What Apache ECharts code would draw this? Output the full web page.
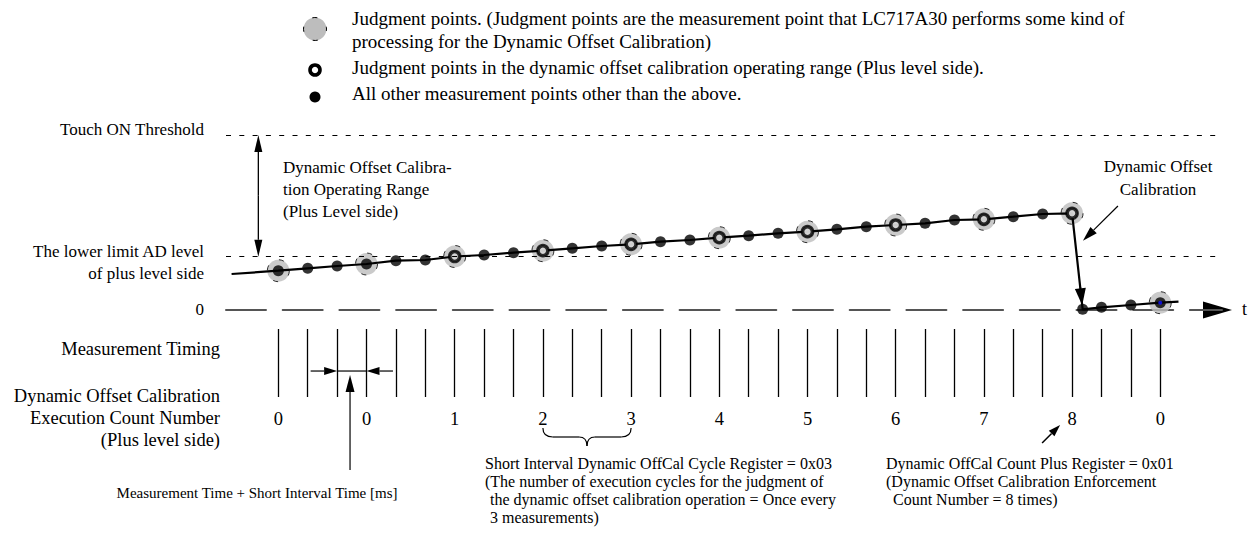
<!DOCTYPE html>
<html><head><meta charset="utf-8">
<script src="https://cdn.jsdelivr.net/npm/echarts@6/dist/echarts.min.js"></script>
<style>html,body{margin:0;background:#fff}#c{width:1250px;height:534px}</style>
</head><body><div id="c"></div>
<script>
// ---- data ----
const countLabels = ['0', '0', '1', '2', '3', '4', '5', '6', '7', '8', '0'];
const levelsBeforeCal = [39.3, 41.7, 44, 46, 49.3, 50, 53.5, 55, 57.3, 59.3, 61.7, 64, 65.7, 68.3, 70, 72.3, 74.3, 76.7, 78.3, 80.7, 83.3, 85, 86.7, 90, 90.7, 93.3, 96, 96.7];
const stepsAfterCal = [27.36, 28, 29, 30];
const levelsAfterCal = [0.7, 2.7, 5, 7.3];
const leadIn = [-1.59, 36];
const tailOut = [30.62, 8.3];
const touchOnThreshold = 175;
const lowerLimitLevel = 53.3;
const judgmentCycle = 3;
const legendTexts = [
  'Judgment points. (Judgment points are the measurement point that LC717A30 performs some kind of',
  'processing for the Dynamic Offset Calibration)',
  'Judgment points in the dynamic offset calibration operating range (Plus level side).',
  'All other measurement points other than the above.'
];

// ---- derived point sets ----
const before = levelsBeforeCal.map((v, i) => [i, v]);
const after = stepsAfterCal.map((s, k) => [s, levelsAfterCal[k]]);
const allPoints = before.concat(after);
const judgment = allPoints.filter(p => Number.isInteger(p[0]) && p[0] % judgmentCycle === 0);
const inRange = judgment.filter(p => p[1] >= lowerLimitLevel && p[1] <= touchOnThreshold);
const lastJudgment = judgment.filter(p => p[0] > before.length - 1);
const trend = [leadIn].concat(before, after, [tailOut]);

const FONT = '"Liberation Serif","Times New Roman",serif';
const chart = echarts.init(document.getElementById('c'), null, {renderer: 'svg'});

chart.setOption({
  animation: false,
  backgroundColor: '#fff',
  grid: [
    {left: 226, right: 28, top: 135, bottom: 224},
    {left: 278.3, right: 89.7, top: 329, bottom: 137}
  ],
  xAxis: [
    {type: 'value', gridIndex: 0, min: -1.78, max: 32.1,
     axisLine: {show: true, lineStyle: {color: '#555', width: 2, type: [40, 16.7]}, symbol: 'none'},
     axisTick: {show: false}, axisLabel: {show: false}, splitLine: {show: false}},
    {type: 'value', gridIndex: 1, min: 0, max: 30, interval: 1, position: 'bottom',
     axisLine: {show: false},
     axisTick: {show: true, inside: true, length: 68, lineStyle: {color: '#000', width: 1.3}},
     axisLabel: {show: true, margin: 12, color: '#000', fontFamily: FONT, fontSize: 18.5,
                 hideOverlap: false, showMinLabel: true, showMaxLabel: true,
                 formatter: v => (v % judgmentCycle === 0 ? countLabels[v / judgmentCycle] : '')},
     splitLine: {show: false}}
  ],
  yAxis: [
    {type: 'value', gridIndex: 0, min: 0, max: touchOnThreshold, show: false},
    {type: 'value', gridIndex: 1, min: 0, max: 1, show: false}
  ],
  series: [
    {type: 'scatter', name: 'halo', xAxisIndex: 0, yAxisIndex: 0, z: 1, data: judgment,
     symbol: 'circle', symbolSize: 22,
     itemStyle: {color: '#bdbdbd', borderColor: '#000', borderWidth: 1, borderType: [5, 12.3], borderDashOffset: 2.5}},
    {type: 'line', name: 'level', xAxisIndex: 0, yAxisIndex: 0, z: 2, data: trend,
     symbol: 'none', lineStyle: {color: '#000', width: 2.2},
     markLine: {silent: true, symbol: 'none', label: {show: false},
       lineStyle: {color: '#000', width: 1, type: [5, 8.3]},
       data: [{yAxis: touchOnThreshold}, {yAxis: lowerLimitLevel}]}},
    {type: 'scatter', name: 'points', xAxisIndex: 0, yAxisIndex: 0, z: 3, data: allPoints,
     symbol: 'circle', symbolSize: 11, itemStyle: {color: '#000'}},
    {type: 'scatter', name: 'inRange', xAxisIndex: 0, yAxisIndex: 0, z: 4, data: inRange,
     symbol: 'circle', symbolSize: 10, itemStyle: {color: '#fff', borderColor: '#000', borderWidth: 3.6}},
    {type: 'scatter', name: 'last', xAxisIndex: 0, yAxisIndex: 0, z: 5, data: lastJudgment,
     symbol: 'circle', symbolSize: 4, itemStyle: {color: '#1010ff'}},
    {type: 'line', name: 'timing', xAxisIndex: 1, yAxisIndex: 1, data: []}
  ]
});

// ---- annotations ----
const P0 = p => chart.convertToPixel({gridIndex: 0}, p);
const P1 = p => chart.convertToPixel({gridIndex: 1}, p);
const g = [];
function txt(s, x, y, size, align) {
  g.push({type: 'text', x: x, y: y, silent: true,
    style: {text: s, font: size + 'px ' + FONT, textAlign: align || 'left', textVerticalAlign: 'middle', fill: '#000'}});
}
function arrow(x1, y1, x2, y2, len, w, lw) {
  const a = Math.atan2(y2 - y1, x2 - x1);
  const bx = x2 - len * Math.cos(a), by = y2 - len * Math.sin(a);
  const nx = -Math.sin(a) * w / 2, ny = Math.cos(a) * w / 2;
  if (lw > 0) g.push({type: 'line', silent: true, shape: {x1: x1, y1: y1, x2: bx, y2: by}, style: {stroke: '#000', lineWidth: lw}});
  g.push({type: 'polygon', silent: true, shape: {points: [[x2, y2], [bx + nx, by + ny], [bx - nx, by - ny]]}, style: {fill: '#000'}});
}

// legend
g.push({type: 'circle', silent: true, shape: {cx: 315, cy: 29, r: 11.5}, style: {fill: '#bdbdbd', stroke: '#000', lineWidth: 1, lineDash: [5, 13], lineDashOffset: 2.5}});
g.push({type: 'circle', silent: true, shape: {cx: 315, cy: 70, r: 5}, style: {fill: '#fff', stroke: '#000', lineWidth: 3.6}});
g.push({type: 'circle', silent: true, shape: {cx: 315, cy: 97, r: 5.5}, style: {fill: '#000'}});
txt(legendTexts[0], 352, 18, 19);
txt(legendTexts[1], 352, 41, 19);
txt(legendTexts[2], 352, 67, 19);
txt(legendTexts[3], 352, 93, 19);

// left labels
const yTh = P0([0, touchOnThreshold])[1], yLo = P0([0, lowerLimitLevel])[1], yZero = P0([0, 0])[1];
txt('Touch ON Threshold', 204, yTh - 6, 17, 'right');
txt('The lower limit AD level', 204, yLo - 5, 17, 'right');
txt('of plus level side', 204, yLo + 17, 17, 'right');
txt('0', 204, yZero - 1, 17, 'right');
txt('t', 1242, yZero - 1, 18, 'left');
txt('Measurement Timing', 220, 349, 18.5, 'right');
txt('Dynamic Offset Calibration', 220, 396, 18.5, 'right');
txt('Execution Count Number', 220, 418, 18.5, 'right');
txt('(Plus level side)', 220, 440, 18.5, 'right');

// time axis arrowhead
arrow(1203, yZero, 1232, yZero, 29, 17, 0);
g.push({type: 'line', silent: true, shape: {x1: 1192, y1: yZero, x2: 1205, y2: yZero}, style: {stroke: '#555', lineWidth: 2}});

// operating range double arrow
const xr = P0([-0.68, 0])[0];
arrow(xr, (yTh + yLo) / 2, xr, yTh, 17, 8, 1.3);
arrow(xr, (yTh + yLo) / 2, xr, yLo, 17, 8, 1.3);
txt('Dynamic Offset Calibra-', 283, 167, 17);
txt('tion Operating Range', 283, 189, 17);
txt('(Plus Level side)', 283, 211, 17);

// calibration drop arrowhead
const dTop = P0(before[before.length - 1]), dBot = P0(after[0]);
(function () {
  const a = Math.atan2(dBot[1] - dTop[1], dBot[0] - dTop[0]);
  const tx = dBot[0] - 4 * Math.cos(a), ty = dBot[1] - 4 * Math.sin(a);
  arrow(tx - 18 * Math.cos(a), ty - 18 * Math.sin(a), tx, ty, 17, 11, 2);
})();
// calibration label + pointer
txt('Dynamic Offset', 1158, 166, 17, 'center');
txt('Calibration', 1158, 189, 17, 'center');
const cT = P0([28.56, 104]), cH = P0([27.37, 69.3]);
arrow(cT[0], cT[1], cH[0], cH[1], 15, 9, 1.2);

// measurement interval arrows
const yI = P1([0, 0.382])[1];
const x2 = P1([2, 0])[0], x3 = P1([3, 0])[0];
arrow(P1([1.1, 0])[0], yI, x2, yI, 13, 8, 1.2);
arrow(P1([3.9, 0])[0], yI, x3, yI, 13, 8, 1.2);
g.push({type: 'line', silent: true, shape: {x1: x2, y1: yI, x2: x3, y2: yI}, style: {stroke: '#000', lineWidth: 1.2}});
const xv = P1([2.44, 0])[0];
arrow(xv, 470, xv, yI + 4, 17, 9, 1.2);
txt('Measurement Time + Short Interval Time [ms]', xv - 93, 493, 15, 'center');

// brace under 2..3
const b1 = P1([9, 0])[0], b2 = P1([12, 0])[0], bm = (b1 + b2) / 2;
const bStyle = {stroke: '#000', lineWidth: 1.2, fill: 'none'};
g.push({type: 'bezierCurve', silent: true, shape: {x1: b1, y1: 428, x2: b1 + 10, y2: 437, cpx1: b1, cpy1: 437}, style: bStyle});
g.push({type: 'line', silent: true, shape: {x1: b1 + 10, y1: 437, x2: bm - 8, y2: 437}, style: bStyle});
g.push({type: 'bezierCurve', silent: true, shape: {x1: bm - 8, y1: 437, x2: bm, y2: 446, cpx1: bm, cpy1: 437}, style: bStyle});
g.push({type: 'bezierCurve', silent: true, shape: {x1: bm, y1: 446, x2: bm + 8, y2: 437, cpx1: bm, cpy1: 437}, style: bStyle});
g.push({type: 'line', silent: true, shape: {x1: bm + 8, y1: 437, x2: b2 - 10, y2: 437}, style: bStyle});
g.push({type: 'bezierCurve', silent: true, shape: {x1: b2 - 10, y1: 437, x2: b2, y2: 428, cpx1: b2, cpy1: 437}, style: bStyle});
txt('Short Interval Dynamic OffCal Cycle Register = 0x03', 485, 463, 16);
txt('(The number of execution cycles for the judgment of', 485, 481, 16);
txt('the dynamic offset calibration operation = Once every', 490, 499, 16);
txt('3 measurements)', 490, 517, 16);

// count plus register
const x8 = P1([27, 0])[0];
arrow(x8 - 30, 443, x8 - 12, 425, 12, 8, 1.5);
txt('Dynamic OffCal Count Plus Register = 0x01', 886, 463, 16);
txt('(Dynamic Offset Calibration Enforcement', 886, 481, 16);
txt('Count Number = 8 times)', 893, 499, 16);

chart.setOption({graphic: {elements: g}});
</script></body></html>
